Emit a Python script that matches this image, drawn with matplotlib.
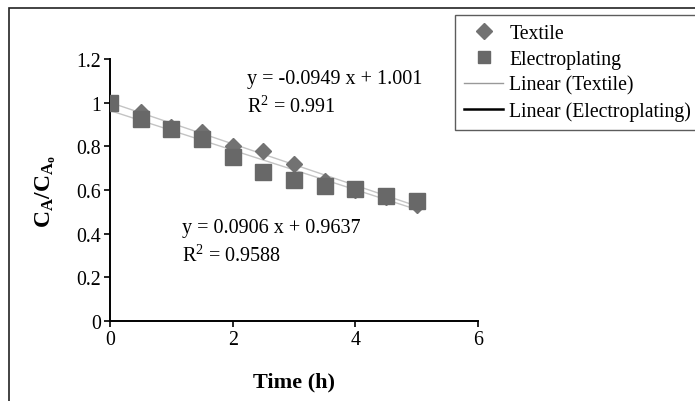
import matplotlib
matplotlib.use("Agg")
import matplotlib.pyplot as plt
from matplotlib.lines import Line2D
from matplotlib.patches import Rectangle
import numpy as np

plt.rcParams['font.family'] = ['Liberation Serif', 'DejaVu Serif']
plt.rcParams['mathtext.fontset'] = 'custom'
plt.rcParams['mathtext.rm'] = 'Liberation Serif'
plt.rcParams['mathtext.it'] = 'Liberation Serif:italic'
plt.rcParams['mathtext.bf'] = 'Liberation Serif:bold'

# ---- data ----
time_h = [0, 0.5, 1, 1.5, 2, 2.5, 3, 3.5, 4, 4.5, 5]
textile = [1.0, 0.955, 0.89, 0.865, 0.80, 0.78, 0.72, 0.64, 0.60, 0.57, 0.533]
electroplating = [1.0, 0.925, 0.88, 0.834, 0.75, 0.684, 0.647, 0.62, 0.605, 0.574, 0.551]
fit_textile = (-0.0949, 1.001)
fit_electro = (-0.0906, 0.9637)
eq_textile = ["y = -0.0949 x + 1.001", "R$^2$ = 0.991"]
eq_electro = ["y = 0.0906 x + 0.9637", "R$^2$ = 0.9588"]
x_ticks = [0, 2, 4, 6]
y_ticks = [0, 0.2, 0.4, 0.6, 0.8, 1, 1.2]
y_tick_labels = ["0", "0.2", "0.4", "0.6", "0.8", "1", "1.2"]

W, H = 695, 402
fig = plt.figure(figsize=(W / 100, H / 100), dpi=100)
ax = fig.add_axes([110 / W, 1 - 322 / H, (478 - 110) / W, (322 - 60) / H])

xs = np.array([time_h[0], time_h[-1]])
ax.plot(xs, fit_textile[0] * xs + fit_textile[1], color='#c4c4c4', lw=1.0, zorder=1)
ax.plot(xs, fit_electro[0] * xs + fit_electro[1], color='#c4c4c4', lw=1.0, zorder=1)
ax.plot(time_h, textile, linestyle='none', marker='D', ms=7.8,
        color='#727272', mec='#727272', zorder=2)
ax.plot(time_h, electroplating, linestyle='none', marker='s', ms=12,
        color='#686868', mec='#686868', zorder=3)

ax.set_xlim(0, 6)
ax.set_ylim(0, 1.2)
ax.set_xticks(x_ticks)
ax.set_xticklabels([str(t) for t in x_ticks])
ax.set_yticks(y_ticks)
ax.set_yticklabels(y_tick_labels)
for s in ['top', 'right']:
    ax.spines[s].set_visible(False)
for s in ['left', 'bottom']:
    ax.spines[s].set_linewidth(1.4)
ax.tick_params(axis='both', direction='out', length=4.5, width=1.2,
               labelsize=14.3, pad=2, colors='black')
ax.set_facecolor('none')

ax.set_xlabel('Time (h)', fontsize=16, fontweight='bold', labelpad=16)
ax.set_ylabel(r'$\mathbf{C_A/C_{A_o}}$', fontsize=17, labelpad=13)

ax.text(2.23, 1.11, eq_textile[0], fontsize=14.5, va='center', ha='left')
ax.text(2.23, 0.985, eq_textile[1], fontsize=14.5, va='center', ha='left')
ax.text(1.17, 0.426, eq_electro[0], fontsize=14.5, va='center', ha='left')
ax.text(1.17, 0.303, eq_electro[1], fontsize=14.5, va='center', ha='left')

# outer frame (cropped on right / bottom)
fig.add_artist(Rectangle((9 / W, -0.2), 1.2, 1 - 9 / H + 0.2, transform=fig.transFigure,
                         fill=False, edgecolor='#222222', lw=1.2, clip_on=False))

handles = [
    Line2D([], [], linestyle='none', marker='D', ms=7.8, color='#727272'),
    Line2D([], [], linestyle='none', marker='s', ms=9, color='#686868'),
    Line2D([], [], color='#999999', lw=1.0),
    Line2D([], [], color='black', lw=1.8),
]
labels = ['Textile', 'Electroplating', 'Linear (Textile)', 'Linear (Electroplating)']
leg = fig.legend(handles, labels, loc='upper left', bbox_to_anchor=(455 / W, 1 - 16 / H),
                 bbox_transform=fig.transFigure, fontsize=14.2, frameon=True, fancybox=False,
                 borderaxespad=0, borderpad=0.45, handlelength=2.0, handletextpad=0.3,
                 labelspacing=0.34, edgecolor='#333333')
leg.get_frame().set_linewidth(1.0)

fig.savefig('out.png', dpi=100)
